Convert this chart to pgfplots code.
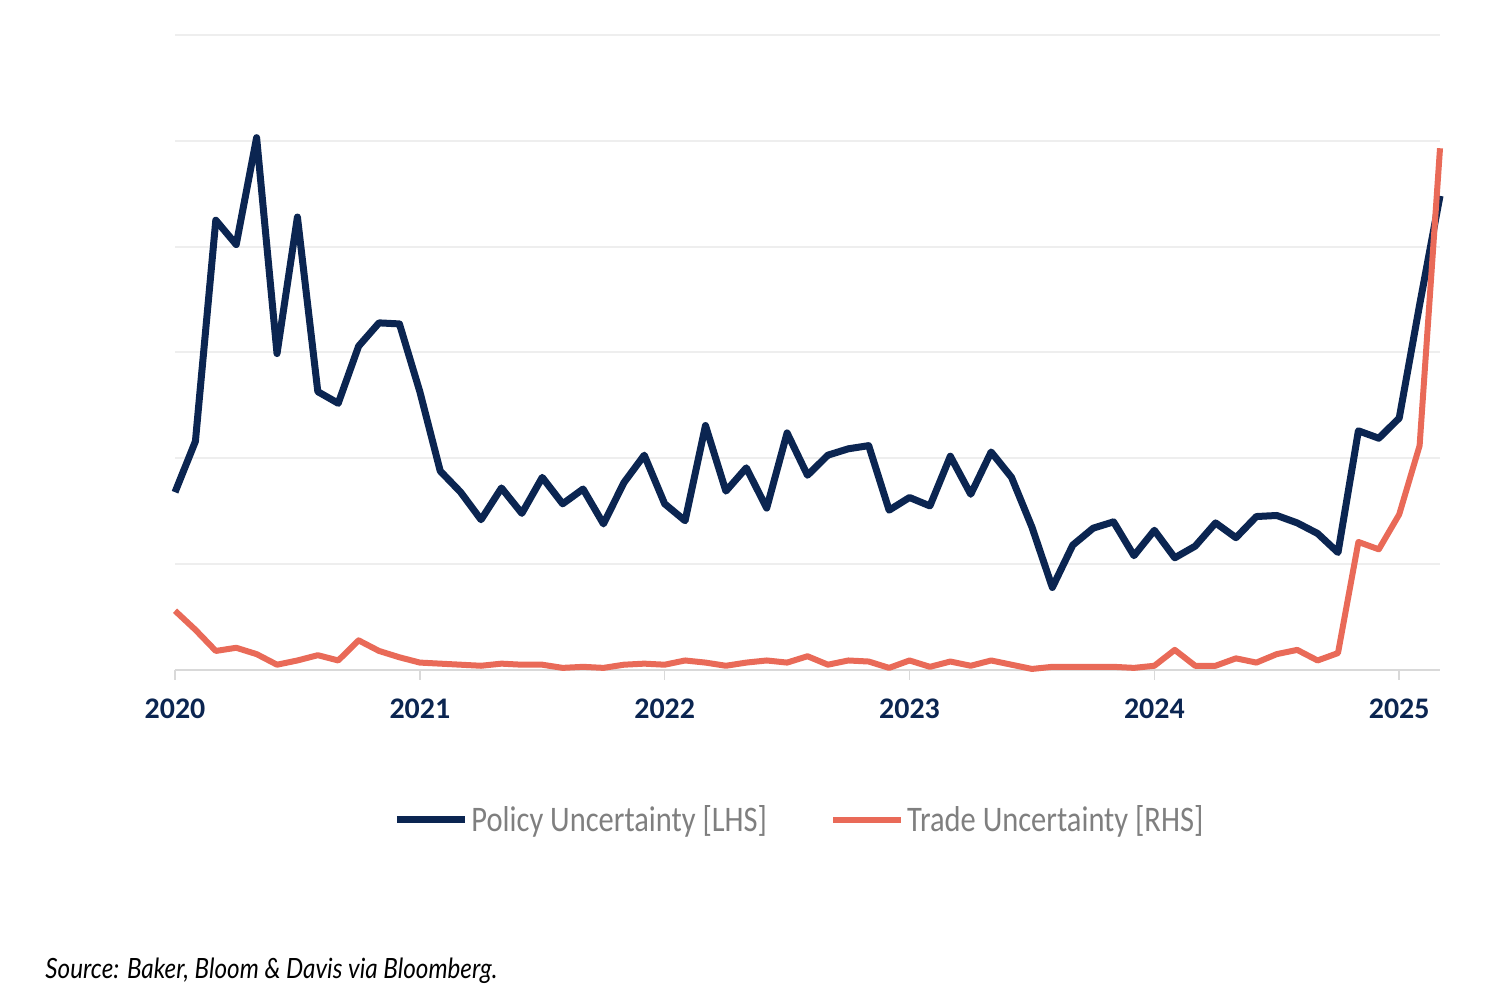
\documentclass[border=0pt]{standalone}
\usepackage{pgfplots}
\pgfplotsset{compat=1.18}
\usepackage{pgfplotstable}
\usepackage{graphicx}
\usepackage{fontspec}
\setmainfont{Carlito}
\newfontfamily\srcfont{Lato}
\definecolor{navy}{HTML}{0B2551}
\definecolor{coral}{HTML}{E96A58}
\definecolor{lgray}{HTML}{7F7F7F}
\definecolor{gridc}{HTML}{EEEEEE}
\definecolor{axc}{HTML}{D9D9D9}

% month index (0 = Jan 2020), values in gridline units
\pgfplotstableread{
m pol
0 1.68
1 2.16
2 4.25
3 4.02
4 5.03
5 2.99
6 4.28
7 2.63
8 2.52
9 3.06
10 3.28
11 3.27
12 2.63
13 1.88
14 1.68
15 1.42
16 1.72
17 1.48
18 1.82
19 1.57
20 1.71
21 1.38
22 1.77
23 2.03
24 1.57
25 1.41
26 2.31
27 1.69
28 1.91
29 1.53
30 2.24
31 1.84
32 2.03
33 2.09
34 2.12
35 1.51
36 1.63
37 1.55
38 2.02
39 1.66
40 2.06
41 1.82
42 1.35
43 0.78
44 1.18
45 1.34
46 1.40
47 1.08
48 1.32
49 1.06
50 1.17
51 1.39
52 1.25
53 1.45
54 1.46
55 1.39
56 1.29
57 1.11
58 2.26
59 2.19
60 2.38
61 3.45
62 4.48
}\poltable

\pgfplotstableread{
m trd
0 0.56
1 0.38
2 0.18
3 0.21
4 0.15
5 0.05
6 0.09
7 0.14
8 0.09
9 0.28
10 0.18
11 0.12
12 0.07
13 0.06
14 0.05
15 0.04
16 0.06
17 0.05
18 0.05
19 0.02
20 0.03
21 0.02
22 0.05
23 0.06
24 0.05
25 0.09
26 0.07
27 0.04
28 0.07
29 0.09
30 0.07
31 0.13
32 0.05
33 0.09
34 0.08
35 0.02
36 0.09
37 0.03
38 0.08
39 0.04
40 0.09
41 0.05
42 0.01
43 0.03
44 0.03
45 0.03
46 0.03
47 0.02
48 0.04
49 0.19
50 0.04
51 0.04
52 0.11
53 0.07
54 0.15
55 0.19
56 0.09
57 0.16
58 1.21
59 1.14
60 1.47
61 2.12
62 4.93
}\trdtable

\begin{document}
\begin{tikzpicture}
\path[use as bounding box] (0,0) rectangle (750bp,504bp);
\begin{axis}[
  at={(87.5bp,169bp)}, anchor=south west,
  scale only axis, width=632.5bp, height=317.5bp,
  xmin=0, xmax=62, ymin=0, ymax=6,
  axis x line*=bottom, axis y line*=left,
  y axis line style={draw=none},
  x axis line style={draw=axc, line width=1bp, -},
  xtick={0,12,24,36,48,60},
  xticklabels={2020,2021,2022,2023,2024,2025},
  tick align=outside, major tick length=5bp,
  x tick style={draw=axc, line width=0.8bp},
  ytick={0,1,2,3,4,5,6}, yticklabels={}, y tick style={draw=none},
  ymajorgrids, grid style={draw=gridc, line width=1bp},
  x tick label style={font=\fontsize{15}{15}\selectfont\bfseries, text=navy, yshift=-6bp},
  clip=false,
  legend columns=2,
  legend style={at={(0.494,-0.236)}, anchor=center, draw=none, fill=none,
    font=\fontsize{15.3}{16}\selectfont, text=lgray,
    /tikz/every even column/.append style={column sep=30bp},
    nodes={inner xsep=1.5bp}},
  legend image code/.code={\draw[#1] (0bp,0bp) -- (34bp,0bp);},
]
\addplot[navy, line width=3.5bp, line join=round] table[x=m, y=pol] {\poltable};
\addlegendentry{\scalebox{1}[1.18]{Policy Uncertainty [LHS]}}
\addplot[coral, line width=3bp, line join=round] table[x=m, y=trd] {\trdtable};
\addlegendentry{\scalebox{1}[1.18]{Trade Uncertainty [RHS]}}
\end{axis}
\node[anchor=base west, inner sep=0pt, font=\srcfont\itshape\fontsize{14}{14}\selectfont] at (22.5bp,15bp) {\scalebox{0.87}[1]{Source: Baker, Bloom \& Davis via Bloomberg.}};
\end{tikzpicture}
\end{document}
